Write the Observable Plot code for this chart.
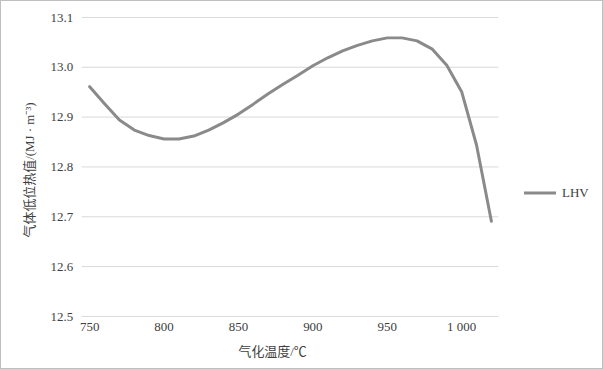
<!DOCTYPE html>
<html>
<head>
<meta charset="utf-8">
<script src="https://cdn.jsdelivr.net/npm/d3@7"></script>
<script src="https://cdn.jsdelivr.net/npm/@observablehq/plot@0.6"></script>
<style>
  html, body { margin: 0; padding: 0; background: #fff; }
  #wrap { position: relative; width: 603px; height: 369px; box-sizing: border-box; border: 1px solid #bfbfbf; overflow: hidden; }
  #wrap svg.plot { position: absolute; left: -1px; top: -1px; }
  #wrap svg text { font-family: "Liberation Serif", "Times New Roman", "Noto Sans CJK SC", serif; }
  #legend { position: absolute; left: 522px; top: 184px; display: flex; align-items: center; font-family: "Liberation Serif", "Times New Roman", serif; font-size: 13px; color: #404040; }
</style>
</head>
<body>
<div id="wrap"></div>
<script>
const temperatures = [750, 760, 770, 780, 790, 800, 810, 820, 830, 840, 850, 860, 870, 880, 890, 900, 910, 920, 930, 940, 950, 960, 970, 980, 990, 1000, 1010, 1020];
const lhv = [12.961, 12.927, 12.894, 12.874, 12.863, 12.856, 12.856, 12.862, 12.874, 12.889, 12.906, 12.926, 12.947, 12.966, 12.984, 13.003, 13.019, 13.033, 13.044, 13.053, 13.059, 13.059, 13.053, 13.037, 13.004, 12.951, 12.844, 12.691];
const xTicks = [750, 800, 850, 900, 950, 1000];
const yTicks = [12.5, 12.6, 12.7, 12.8, 12.9, 13.0, 13.1];
const seriesName = "LHV";
const xTitle = "气化温度/℃";
const yTitle = "气体低位热值/(MJ · m⁻³)";

const data = temperatures.map((t, i) => ({t, v: lhv[i]}));
const font = '"Liberation Serif", "Times New Roman", "Noto Sans CJK SC", serif';
const textColor = "#404040";

const chart = Plot.plot({
  width: 603,
  height: 369,
  marginLeft: 82,
  marginRight: 103,
  marginTop: 17,
  marginBottom: 52,
  style: {fontFamily: font, fontSize: "13px", color: textColor, background: "transparent", overflow: "visible"},
  x: {domain: [745, 1025]},
  y: {domain: [12.5, 13.1]},
  marks: [
    Plot.gridY(yTicks, {stroke: "#d9d9d9", strokeOpacity: 1, strokeWidth: 1}),
    Plot.axisY(yTicks, {tickSize: 0, tickPadding: 9, tickFormat: d => d.toFixed(1), label: null, fontSize: 13, fill: textColor}),
    Plot.axisX(xTicks, {tickSize: 0, tickPadding: 5, tickFormat: d => d >= 1000 ? d3.format(",")(d).replace(",", " ") : String(d), label: null, fontSize: 13, fill: textColor}),
    Plot.line(data, {x: "t", y: "v", stroke: "#8a8a8a", strokeWidth: 3, curve: "linear"}),
    Plot.text([yTitle], {frameAnchor: "left", dx: -53, dy: 3, rotate: -90, textAnchor: "middle", fontSize: 13, fill: textColor}),
    Plot.text([xTitle], {frameAnchor: "bottom", dx: -18, dy: 36, textAnchor: "middle", lineAnchor: "middle", fontSize: 13, fill: textColor})
  ]
});
chart.classList.add("plot");
const wrap = document.getElementById("wrap");
wrap.appendChild(chart);

const legend = document.createElement("div");
legend.id = "legend";
legend.innerHTML = `<svg width="34" height="16"><line x1="1" x2="33" y1="8" y2="8" stroke="#8a8a8a" stroke-width="3"/></svg><span style="margin-left:5px">${seriesName}</span>`;
wrap.appendChild(legend);
</script>
</body>
</html>
